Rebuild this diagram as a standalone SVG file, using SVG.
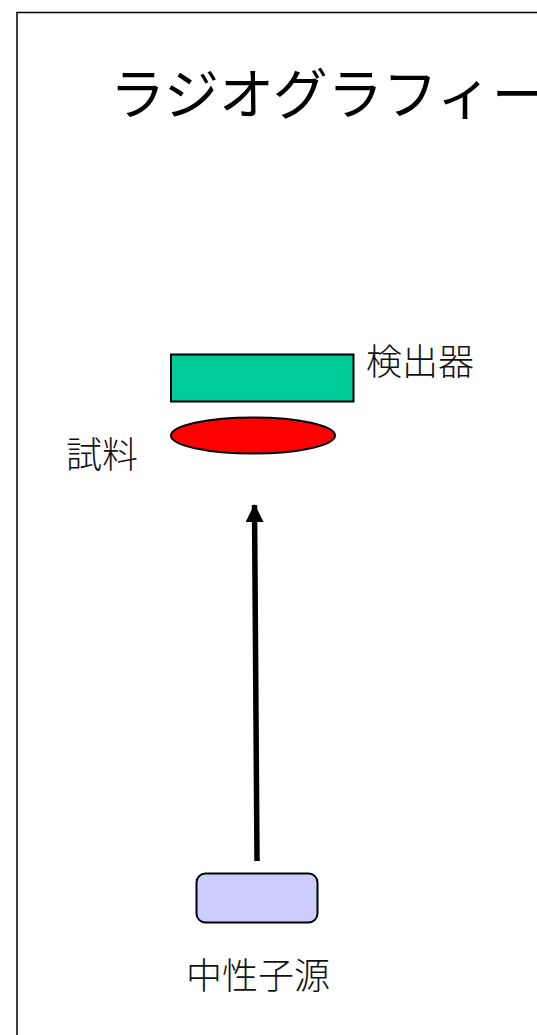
<svg xmlns="http://www.w3.org/2000/svg" width="537" height="1035" viewBox="0 0 537 1035">
  <defs>
    <style>
      .lbl { font-family: "Noto Sans CJK JP", "Noto Sans", sans-serif; font-size: 36px; fill: #111; font-weight: 300; }
      .title { font-family: "Noto Sans CJK JP", "Noto Sans", sans-serif; font-size: 55px; fill: #000; font-weight: 400; }
      .shape { stroke: #000; stroke-width: 2; }
    </style>
    <marker id="arrow" markerUnits="userSpaceOnUse" markerWidth="20" markerHeight="20" refX="17" refY="9" orient="auto">
      <path d="M0,0 L18,9 L0,18 Z" fill="#000"/>
    </marker>
  </defs>
  <rect x="0" y="0" width="537" height="1035" fill="#fff"/>
  <path d="M17,1035 L17,12.5 L537,12.5" fill="none" stroke="#000" stroke-width="1.5"/>
  <text class="title" x="110" y="114">ラジオグラフィー</text>
  <g id="connectors">
    <line x1="257" y1="861" x2="254.5" y2="505" stroke="#000" stroke-width="5.5" marker-end="url(#arrow)"/>
  </g>
  <g id="detector">
    <rect class="shape" x="171" y="354.5" width="182.5" height="47" fill="#00CC99"/>
    <text class="lbl" x="366" y="375">検出器</text>
  </g>
  <g id="sample">
    <ellipse class="shape" cx="253" cy="435.5" rx="82" ry="18" fill="#FF0000"/>
    <text class="lbl" x="66" y="468">試料</text>
  </g>
  <g id="source">
    <rect class="shape" x="196.5" y="873.5" width="121" height="49" rx="9" fill="#CCCCFF"/>
    <text class="lbl" x="186" y="989">中性子源</text>
  </g>
</svg>
